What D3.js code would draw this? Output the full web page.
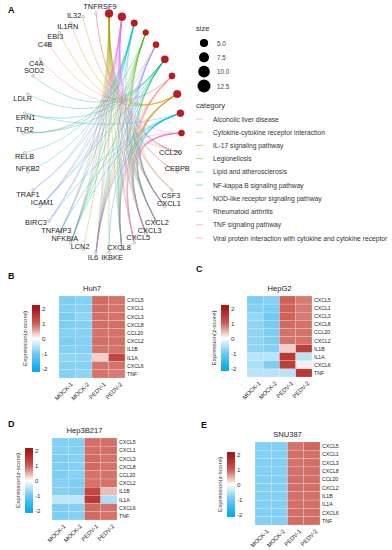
<!DOCTYPE html>
<html><head><meta charset="utf-8">
<script src="https://cdn.jsdelivr.net/npm/d3@7"></script>
<style>
body{margin:0;background:#fff}
svg{display:block;font-family:"Liberation Sans",Arial,Helvetica,sans-serif}
</style>
</head><body>
<svg id="chart" width="392" height="550"></svg>
<script>
// ---------- DATA ----------
const categories = [
  "Alcoholic liver disease",
  "Cytokine-cytokine receptor interaction",
  "IL-17 signaling pathway",
  "Legionellosis",
  "Lipid and atherosclerosis",
  "NF-kappa B signaling pathway",
  "NOD-like receptor signaling pathway",
  "Rheumatoid arthritis",
  "TNF signaling pathway",
  "Viral protein interaction with cytokine and cytokine receptor"
];
const categoryColors = ["#F8766D","#D89000","#A3A500","#39B600","#00BF7D","#00BFC4","#00B0F6","#9590FF","#E76BF3","#FF62BC"];
// order of category nodes around the ring (starting at east, counter-clockwise)
const ringCategories = [
  "Viral protein interaction with cytokine and cytokine receptor",
  "NOD-like receptor signaling pathway",
  "Cytokine-cytokine receptor interaction",
  "Alcoholic liver disease",
  "Lipid and atherosclerosis",
  "Rheumatoid arthritis",
  "Legionellosis",
  "NF-kappa B signaling pathway",
  "TNF signaling pathway",
  "IL-17 signaling pathway"
];
const genes = ["TNFRSF9","IL32","IL1RN","EBI3","C4B","C4A","SOD2","LDLR","ERN1","TLR2","RELB","NFKB2","TRAF1","ICAM1","BIRC3","TNFAIP3","NFKBIA","LCN2","IL6","IKBKE","CXCL8","CXCL5","CXCL3","CXCL2","CXCL1","CSF3","CEBPB","CCL20"];
const alcoholicGenes = ["C4B","C4A","IL6","CXCL8","CXCL1","CXCL5","CXCL2","CXCL3"];
const cytokineGenes = ["TNFRSF9","IL32","IL1RN","EBI3","IL6","CXCL8","CXCL5","CXCL3","CXCL2","CXCL1","CSF3","CCL20"];
const il17Genes = ["IL6","CXCL8","CXCL1","CXCL2","CXCL3","CXCL5","CCL20","CSF3","CEBPB","LCN2","NFKBIA","TNFAIP3","IKBKE"];
const legionellosisGenes = ["CXCL1","CXCL2","CXCL3","CXCL8","IL6","NFKBIA","TLR2"];
const lipidGenes = ["CXCL1","CXCL2","CXCL3","CXCL8","IL6","ICAM1","NFKBIA","TLR2","ERN1","LDLR","SOD2"];
const nfkbGenes = ["CXCL8","CXCL2","TNFAIP3","NFKBIA","BIRC3","TRAF1","ICAM1","RELB","NFKB2"];
const nodGenes = ["CXCL1","CXCL2","CXCL3","CXCL8","IL6","NFKBIA","TNFAIP3","BIRC3","IKBKE","ERN1"];
const raGenes = ["CXCL1","CXCL3","CXCL5","CXCL8","CCL20","IL6","ICAM1","TLR2"];
const tnfGenes = ["CXCL1","CXCL2","CXCL3","CXCL5","CCL20","IL6","CSF3","CEBPB","NFKBIA","TNFAIP3","BIRC3","TRAF1","ICAM1"];
const viralGenes = ["CXCL1","CXCL2","CXCL3","CXCL5","CXCL8","CCL20","IL6","TNFRSF9"];
const geneSets = [alcoholicGenes,cytokineGenes,il17Genes,legionellosisGenes,lipidGenes,nfkbGenes,nodGenes,raGenes,tnfGenes,viralGenes];
const sizeBreaks = [5.0, 7.5, 10.0, 12.5];

const heatGenes = ["CXCL5","CXCL1","CXCL3","CXCL8","CCL20","CXCL2","IL1B","IL1A","CXCL6","TNF"];
const samples = ["MOCK-1","MOCK-2","PEDV-1","PEDV-2"];
const huh7 = [
  [-0.90,-0.85,0.90,0.85],[-0.88,-0.85,0.88,0.85],[-0.92,-0.80,0.87,0.85],[-0.90,-0.85,0.88,0.87],
  [-0.85,-0.85,0.85,0.85],[-0.90,-0.85,0.88,0.87],[-0.85,-0.85,0.85,0.85],[-0.78,-0.80,0.30,1.30],
  [-0.85,-0.85,0.85,0.85],[-0.85,-0.80,0.85,0.80]];
const hepg2 = [
  [-0.92,-0.85,0.95,0.80],[-0.85,-0.90,0.95,0.80],[-0.75,-1.00,0.95,0.80],[-0.80,-0.95,0.90,0.85],
  [-0.80,-0.90,0.85,0.85],[-0.80,-0.90,0.85,0.85],[-0.80,-0.85,0.30,1.40],[-0.50,-0.50,1.50,-0.50],
  [-0.60,-0.90,1.40,0.10],[-0.50,-0.50,-0.50,1.50]];
const hep3b = [
  [-0.87,-0.87,0.87,0.87],[-0.87,-0.87,0.87,0.87],[-0.90,-0.85,0.90,0.85],[-0.90,-0.85,0.90,0.85],
  [-0.90,-0.85,0.85,0.85],[-0.85,-0.90,0.85,0.85],[-0.85,-0.90,1.30,0.40],[-0.45,-0.45,1.50,-0.60],
  [-0.90,-0.85,0.90,0.85],[-0.90,-0.85,0.90,0.85]];
const snu387 = [
  [-0.88,-0.88,0.85,0.92],[-0.87,-0.87,0.87,0.87],[-0.87,-0.87,0.85,0.88],[-0.87,-0.87,0.86,0.88],
  [-0.87,-0.87,0.87,0.87],[-0.87,-0.87,0.87,0.87],[-0.87,-0.87,0.87,0.87],[-0.87,-0.87,0.87,0.87],
  [-0.87,-0.87,0.87,0.87],[-0.87,-0.87,0.88,0.88]];
const legendTicks = [2, 1, 0, -1, -2];

// ---------- DRAW ----------
const svg = d3.select("#chart");
svg.append("rect").attr("width",392).attr("height",550).attr("fill","#fff");

// label placement tweaks (mimic repelled labels)
const labelNudge = {
  TNFRSF9:[4,-7], IL32:[-9,-1], IL1RN:[-3,3.5], EBI3:[-4,3.5], C4B:[-4,0], C4A:[-4,4], SOD2:[1,-5],
  LDLR:[-5,4], ERN1:[1,4], TLR2:[1,-4], RELB:[0,4], NFKB2:[0,-3], TRAF1:[-5,4], ICAM1:[2,-4],
  BIRC3:[-13,1], TNFAIP3:[-3,-3], NFKBIA:[-6,-4], LCN2:[-3,-3], IL6:[-3,4.5], IKBKE:[3,4.5],
  CXCL8:[-3,-2], CXCL5:[4,-5], CXCL3:[4,-3], CXCL2:[1,1], CXCL1:[4,-3], CSF3:[-1,5], CEBPB:[0,-3], CCL20:[-10,0]
};

const nNodes = ringCategories.length + genes.length;
const xs = d3.scaleLinear().domain([-1,1]).range([102.5-79, 102.5+79]);
const ys = d3.scaleLinear().domain([-1,1]).range([133+120, 133-120]);
const ang = d3.scaleLinear().domain([0,nNodes]).range([0, 2*Math.PI]);
const pos = {};
ringCategories.forEach((c,i)=>{ const a=ang(i); pos[c]=[xs(Math.cos(a)), ys(Math.sin(a))]; });
genes.forEach((g,i)=>{ const a=ang(i+ringCategories.length); pos[g]=[xs(Math.cos(a)), ys(Math.sin(a))]; });
const center = [xs(0.08), ys(-0.02)];
const color = d3.scaleOrdinal().domain(categories).range(categoryColors);

const gNet = svg.append("g");
const edges = [];
categories.forEach((c,ci)=>geneSets[ci].forEach(g=>edges.push({c,g})));
gNet.append("g").selectAll("path").data(edges).join("path")
  .attr("d", d=>{ const p=d3.path(); const a=pos[d.g], b=pos[d.c];
     p.moveTo(a[0],a[1]); p.quadraticCurveTo(center[0],center[1],b[0],b[1]); return p.toString(); })
  .attr("fill","none").attr("stroke",d=>color(d.c)).attr("stroke-width",0.75).attr("stroke-opacity",0.45);

const rDot = d3.scaleSqrt().domain([0,12.5]).range([0,3.9]);
gNet.append("g").selectAll("circle").data(ringCategories).join("circle")
  .attr("cx",c=>pos[c][0]).attr("cy",c=>pos[c][1])
  .attr("r",c=>rDot(geneSets[categories.indexOf(c)].length))
  .attr("fill","#BE1A22").attr("stroke","#9a0f16").attr("stroke-width",0.4);

gNet.append("g").selectAll("circle").data(genes).join("circle")
  .attr("cx",g=>pos[g][0]).attr("cy",g=>pos[g][1]).attr("r",1.3)
  .attr("fill","#fff").attr("stroke","#9a9a9a").attr("stroke-width",0.6);

gNet.append("g").selectAll("text").data(genes).join("text")
  .attr("x",g=>pos[g][0]+labelNudge[g][0]).attr("y",g=>pos[g][1]+labelNudge[g][1])
  .attr("text-anchor","middle").attr("dominant-baseline","central")
  .attr("font-size",7.4).attr("fill","#222").text(g=>g);

// legend
const gL = svg.append("g");
gL.append("text").attr("x",196).attr("y",31).attr("font-size",7.6).attr("fill","#333").text("size");
const rLeg = d3.scaleSqrt().domain([0,12.5]).range([0,6.5]);
const legY = d3.scalePoint().domain(sizeBreaks).range([43,86]);
sizeBreaks.forEach(v=>{
  gL.append("circle").attr("cx",204).attr("cy",legY(v)).attr("r",rLeg(v)).attr("fill","#000");
  gL.append("text").attr("x",217).attr("y",legY(v)).attr("dominant-baseline","central")
    .attr("font-size",6.3).attr("fill","#444").text(v.toFixed(1));
});
gL.append("text").attr("x",196).attr("y",108).attr("font-size",7.6).attr("fill","#333").text("category");
const catY = d3.scalePoint().domain(categories).range([119,238]);
categories.forEach(c=>{
  gL.append("line").attr("x1",196).attr("x2",203).attr("y1",catY(c)).attr("y2",catY(c))
    .attr("stroke",color(c)).attr("stroke-opacity",0.6).attr("stroke-width",0.8);
  gL.append("text").attr("x",213).attr("y",catY(c)).attr("dominant-baseline","central")
    .attr("font-size",6.7).attr("fill","#333").text(c);
});

// panel letters
[["A",8,13],["B",8,279],["C",196,272],["D",8,427],["E",201,428]].forEach(([t,x,y])=>
  svg.append("text").attr("x",x).attr("y",y).attr("font-size",9).attr("font-weight","bold").attr("fill","#111").text(t));

// heatmaps
const heatColor = d3.scaleLinear().domain([-2,-1,0,1,2])
  .range(["#08ADEE","#70C9F3","#FFFFFF","#CB5A50","#A41A1C"]).clamp(true);

function heatmap(data, title, box, bar){
  const g = svg.append("g");
  const x = d3.scaleBand().domain(samples).range([box.x0,box.x1]);
  const y = d3.scaleBand().domain(heatGenes).range([box.y0,box.y1]);
  const cells = [];
  data.forEach((row,ri)=>row.forEach((v,ci)=>cells.push({g:heatGenes[ri],s:samples[ci],v})));
  g.selectAll("rect.cell").data(cells).join("rect").attr("class","cell")
    .attr("x",d=>x(d.s)).attr("y",d=>y(d.g)).attr("width",x.bandwidth()).attr("height",y.bandwidth())
    .attr("fill",d=>heatColor(d.v)).attr("stroke","#f2f2f2").attr("stroke-width",0.35).attr("stroke-opacity",0.6);
  g.append("text").attr("x",(box.x0+box.x1)/2).attr("y",box.y0-5).attr("text-anchor","middle")
    .attr("font-size",7.6).attr("fill","#222").text(title);
  g.selectAll("text.row").data(heatGenes).join("text").attr("class","row")
    .attr("x",box.x1+2).attr("y",d=>y(d)+y.bandwidth()/2).attr("dominant-baseline","central")
    .attr("font-size",5.2).attr("fill","#222").text(d=>d);
  g.selectAll("text.col").data(samples).join("text").attr("class","col")
    .attr("transform",d=>`translate(${x(d)+x.bandwidth()/2+3},${box.y1+4}) rotate(-45)`)
    .attr("text-anchor","end").attr("dominant-baseline","hanging")
    .attr("font-size",5.8).attr("fill","#222").text(d=>d);
  // colour bar
  const vb = d3.scaleLinear().domain([2.2,-2.2]).range([bar.y0,bar.y1]);
  const gradId = "grad"+title.replace(/\W/g,"");
  const grad = svg.append("defs").append("linearGradient").attr("id",gradId)
    .attr("x1",0).attr("x2",0).attr("y1",0).attr("y2",1);
  d3.range(0,1.0001,0.05).forEach(t=>grad.append("stop").attr("offset",t).attr("stop-color",heatColor(2.2-4.4*t)));
  g.append("rect").attr("x",bar.x).attr("y",bar.y0).attr("width",8).attr("height",bar.y1-bar.y0).attr("fill",`url(#${gradId})`);
  g.selectAll("text.tick").data(legendTicks).join("text").attr("class","tick")
    .attr("x",bar.x+10).attr("y",d=>vb(d)).attr("dominant-baseline","central")
    .attr("font-size",6.2).attr("fill","#333").text(d=>d);
  g.append("text").attr("transform",`translate(${bar.x-5},${(bar.y0+bar.y1)/2}) rotate(-90)`)
    .attr("text-anchor","middle").attr("font-size",6.2).attr("fill","#333").text("Expression(z-score)");
}
heatmap(huh7,"Huh7",{x0:59,x1:125,y0:296,y1:378},{x:32,y0:305,y1:372});
heatmap(hepg2,"HepG2",{x0:247,x1:312,y0:296,y1:377},{x:221,y0:305,y1:371});
heatmap(hep3b,"Hep3B217",{x0:52,x1:117,y0:438,y1:520},{x:25,y0:448,y1:513});
heatmap(snu387,"SNU387",{x0:255,x1:320,y0:442,y1:525},{x:227,y0:452,y1:517});
</script>
</body></html>
